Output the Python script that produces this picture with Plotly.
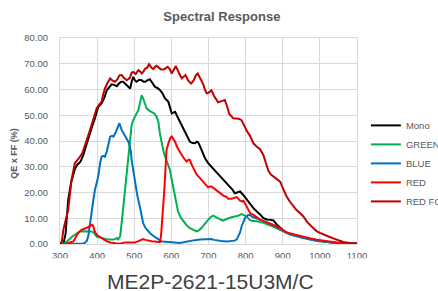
import plotly.graph_objects as go

# ---------------- data ----------------
mono_wl = [300,305,310,315,322,330,340,346,355,363,370,376,385,394,403,412,420,426,432,439,446,453,460,465,470,477,484,489,493,497,502,506,513,520,525,529,535,542,549,556,563,569,576,583,592,597,601,605,610,616,623,630,637,644,650,657,664,668,672,677,682,690,699,708,717,724,731,740,749,758,765,771,778,785,794,803,812,821,830,839,848,857,866,875,884,893,902,910,928,946,970,991,1020,1045,1075,1100]
mono_qe = [0,0,0.5,4,17,24,29,30.7,32,34.6,38,41,45,48.8,53.3,54.6,57,59.7,61,62,61.8,61.3,62.5,63,63,62,61,60.4,63,64.9,63.5,63,63.8,63.6,63,63,63.5,64,62.5,61,60.5,59.8,58.5,56.5,55.2,52.5,50.7,51,51.3,49.5,47.5,45,43,41.2,39.7,39.2,39.1,39.7,39.5,38,36,33.5,31.4,30,28.8,27.5,26.2,25.2,23.5,22.3,21,19.7,20.2,20.4,19,17.2,15.5,13.9,12.6,11.5,10,9.5,9.4,9.2,7.5,6.2,5.2,4.3,3.5,2.9,2,1.4,0.8,0.4,0.2,0.1]

green_wl = [300,313,320,327,334,340,347,354,365,375,385,390,395,399,405,412,420,430,437,444,450,453,457,462,466,470,475,480,484,489,493,497,502,506,511,515,520,524,529,533,540,547,553,560,565,569,574,578,583,590,596,603,610,618,625,632,641,650,659,668,675,681,690,699,706,713,720,726,733,740,747,753,762,771,780,789,796,803,810,816,830,848,866,884,900,920,946,970,991,1020,1045,1075,1100]
green_qe = [0,0.4,1.2,2.3,3,3.6,4.3,4.9,5,5,4.9,4.5,3.5,2.9,2.6,2.3,2,1.7,1.7,1.7,2,2.3,1.8,3,8.1,14,21,29,34,41,46.2,48,49.4,50.5,52,54.5,57.8,56.5,54.5,52.7,51.8,51.3,50.8,49.5,47.5,43,39,36.5,34,31.5,28.8,23.5,18.4,12.6,10.3,8.8,7.3,6.2,5.5,4.9,5.4,6.2,7.8,9.4,10.5,11,10.6,10,9.4,9.1,9.6,10,10.4,10.7,11,11.6,11.3,10.7,9.5,9,8.8,8.2,7.2,6.2,5,3.7,2.6,1.8,1.3,0.8,0.4,0.2,0.1]

blue_wl = [300,354,362,367,372,376,380,385,390,394,399,403,408,412,417,421,426,430,435,440,444,449,453,460,466,470,475,480,484,488,491,493,497,502,508,515,520,524,530,536,542,550,560,567,574,585,596,610,623,636,650,663,677,690,700,708,715,722,735,749,760,771,776,780,785,789,794,798,803,807,812,816,823,830,840,848,866,884,900,920,946,970,991,1020,1045,1075,1100]
blue_qe = [0,0,0.2,0.4,1.2,2.9,6.5,12,17.2,21,23.5,26.2,31.4,33.9,34.2,33.9,35.9,39,41.7,42,41.7,43,44.3,46.9,44.3,43.2,42.3,41,39.7,38,35.9,32.6,28.5,23.6,19,14.6,10.8,8.1,6.3,5.2,4.3,3.3,2.3,1.5,1,0.9,0.8,0.6,0.4,0.8,1.3,1.5,1.7,1.8,1.9,1.9,1.6,1.4,1.2,1,1.1,1.3,1.8,2.9,4.5,6.8,8.5,10,10.8,11.3,11.3,10.7,10.3,10,9.5,9,7.8,6.4,5.1,3.8,2.7,1.9,1.3,0.8,0.4,0.2,0.1]

red_wl = [300,315,322,330,336,342,349,358,365,372,377,381,387,390,392,396,399,404,408,412,417,425,435,446,457,466,475,490,502,508,515,520,524,530,538,547,556,565,569,572,575,578,581,583,587,592,597,601,606,610,616,623,628,634,641,646,650,654,660,668,677,686,693,699,704,708,713,722,731,740,749,753,762,771,776,780,785,790,794,798,803,808,812,821,830,839,848,857,866,875,884,893,902,910,928,946,970,991,1020,1045,1075,1100]
red_qe = [0,0,0.4,0.8,1,2.5,4.3,5.5,5.9,6.2,6.6,7.1,7.5,6.8,5.5,4.3,3.6,3.1,2.7,2.2,1.7,1.1,0.6,0.3,0.1,0.3,0.6,0.6,0.6,0.9,1.4,1.8,1.9,1.6,1.3,1.1,1,0.8,0.7,3,8,13.3,21,26.2,36.5,39.1,41.2,41.7,40.5,39.7,37.5,35.5,34.6,33.2,32,32.8,32.6,31,29,27,25.6,24,22.8,22,22.3,22.3,21.8,20.8,19.7,18.8,18.2,17.6,17.6,17.8,18.2,17.6,16.8,16.5,16.8,15.9,14.5,13,12,11.3,10.3,9.5,8.9,8.5,8.1,7.4,6.8,6.2,5.3,4.5,3.8,3.2,2.3,1.7,1.1,0.6,0.3,0.1]

redfox_wl = [300,305,309,315,322,331,340,346,351,360,366,372,378,385,392,399,405,412,416,421,428,435,441,448,455,460,466,472,480,488,493,497,504,511,516,520,525,529,535,540,546,551,556,560,566,572,581,586,590,596,601,606,612,620,628,633,638,645,653,660,666,671,677,686,690,695,700,708,715,726,735,744,750,756,767,776,782,789,796,803,812,821,830,839,848,855,861,868,875,884,893,901,910,919,928,937,946,955,966,978,991,1000,1014,1025,1036,1050,1063,1080,1100]
redfox_qe = [0,1,5.5,9,13.3,24.9,31.4,32.5,33.3,35.2,37.5,40.4,43,46.2,49.5,52.7,54,55.2,58,60.4,62.5,64.3,63.5,63,64,65.5,65.6,64.5,63.6,64.5,66.5,66.8,66,67.5,67,66.2,67,68.1,68.5,69.8,68.5,67.9,68.8,69.2,68.5,67.8,67.9,68.5,68.8,67.8,66.2,67.5,69.1,66.5,64.3,65,65.6,63.5,62.3,63.5,65.5,66.2,64.3,62,60,58.5,58.7,59.7,57.5,55,55.5,55.9,53.5,50.5,48.8,48.8,48.6,48.1,46,44,42,39.1,37.8,36.8,34.5,31,28.5,27,26.2,25.3,24.2,21.5,18.5,16.5,14.6,13.2,12,10.8,8.5,6.8,5,4.3,3.3,2.8,2.2,1.4,0.8,0.4,0.2]

series_names = ["Mono", "GREEN", "BLUE", "RED", "RED FOX"]
series_colors = ["#000000", "#00b050", "#0070c0", "#ff0000", "#c00000"]
series_x = [mono_wl, green_wl, blue_wl, red_wl, redfox_wl]
series_y = [mono_qe, green_qe, blue_qe, red_qe, redfox_qe]

x_ticks = [300, 400, 500, 600, 700, 800, 900, 1000, 1100]
y_ticks = [0, 10, 20, 30, 40, 50, 60, 70, 80]

# ---------------- figure ----------------
fig = go.Figure()
for name, color, xs, ys in zip(series_names, series_colors, series_x, series_y):
    fig.add_trace(go.Scatter(x=xs, y=ys, mode="lines", name=name,
                             line=dict(color=color, width=2)))

grid = "#d9d9d9"
tick_font = dict(family="Liberation Sans, Arial, sans-serif", size=9.5, color="#595959")

fig.update_layout(
    width=438, height=291,
    margin=dict(l=60, r=81, t=38, b=47, autoexpand=False),
    paper_bgcolor="white", plot_bgcolor="white",
    title=dict(text="<b>Spectral Response</b>", x=0.545, xref="paper", xanchor="center",
               y=1 - 16 / 291, yref="container", yanchor="middle",
               font=dict(family="Liberation Sans, Arial, sans-serif", size=13, color="#595959")),
    xaxis=dict(range=[300, 1100], tickvals=x_ticks, showgrid=True, gridcolor=grid, gridwidth=1,
               zeroline=False, showline=True, linecolor=grid, linewidth=1, mirror=True,
               ticks="", tickfont=tick_font, ticklabelstandoff=3),
    yaxis=dict(range=[0, 80], tickvals=y_ticks, tickformat=".2f", showgrid=True, gridcolor=grid,
               gridwidth=1, zeroline=False, showline=True, linecolor=grid, linewidth=1, mirror=True,
               ticks="", tickfont=tick_font, ticklabelstandoff=9),
    showlegend=True,
    legend=dict(x=1.03, xanchor="left", y=(244.3 - 111) / 206.3, yanchor="top",
                font=dict(family="Liberation Sans, Arial, sans-serif", size=9.5, color="#595959"),
                itemwidth=30, bgcolor="rgba(0,0,0,0)", tracegroupgap=0),
    shapes=[dict(type="rect", xref="paper", yref="paper", x0=-0.3, x1=1.5,
                 y0=-(258.5 - 244.3) / 206.3, y1=-0.4, fillcolor="white",
                 line=dict(width=0), layer="above")],
    annotations=[
        dict(text="<b>QE x FF (%)</b>", textangle=-90, xref="paper", yref="paper",
             x=(14 - 60) / 297, y=(244.3 - 154) / 206.3, showarrow=False,
             xanchor="center", yanchor="middle",
             font=dict(family="Liberation Sans, Arial, sans-serif", size=9, color="#595959")),
        dict(text="ME2P-2621-15U3M/C", xref="paper", yref="paper",
             x=(210 - 60) / 297, y=(244.3 - 282) / 206.3, showarrow=False,
             xanchor="center", yanchor="middle",
             font=dict(family="Liberation Sans, Arial, sans-serif", size=21, color="#404040")),
    ],
)

fig.write_html("out.html", config={"displayModeBar": False},
               post_script="document.body.style.margin='0';")
